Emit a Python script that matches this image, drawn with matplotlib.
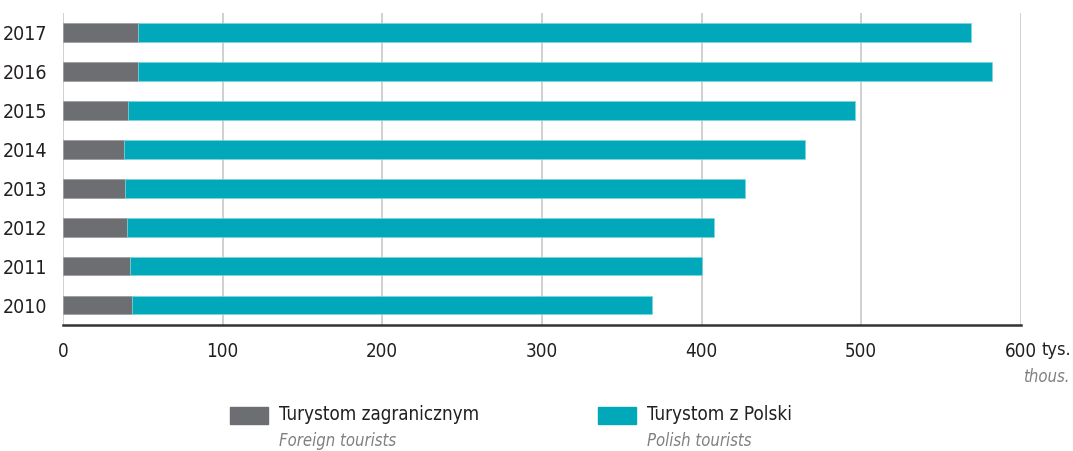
import matplotlib.pyplot as plt

plt.rcParams['font.family'] = ['DejaVu Sans']
plt.rcParams['font.stretch'] = 'condensed'

# dane (tys.)
years = ['2010', '2011', '2012', '2013', '2014', '2015', '2016', '2017']
foreign = [43, 42, 40, 39, 38, 41, 47, 47]
polish = [326, 358, 368, 388, 427, 455, 535, 522]

grey = '#6d6e71'
teal = '#00a8b9'

fig = plt.figure(figsize=(10.73, 4.51), dpi=100)
ax = fig.add_axes([0.0587, 0.279, 0.8928, 0.692])

y = range(len(years))
ax.barh(y, foreign, height=0.47, color=grey, edgecolor='#9a9a9c', linewidth=0.5, zorder=3)
ax.barh(y, polish, left=foreign, height=0.47, color=teal, edgecolor='#7fd3dc', linewidth=0.5, zorder=3)

ax.set_xlim(0, 600)
ax.set_ylim(-0.51, 7.5)
ax.set_yticks(list(y))
ax.set_yticklabels(years, fontsize=14, color='#231f20')
ax.set_xticks([0, 100, 200, 300, 400, 500, 600])
ax.set_xticklabels(['0', '100', '200', '300', '400', '500', '600'], fontsize=13.5, color='#231f20')
ax.tick_params(axis='y', length=0, pad=11)
ax.tick_params(axis='x', length=0, pad=12)

ax.grid(axis='x', color='#c8c8c8', linewidth=1.2, zorder=0)
for s in ['top', 'left', 'right']:
    ax.spines[s].set_visible(False)
ax.spines['bottom'].set_color('#333333')
ax.spines['bottom'].set_linewidth(1.8)
ax.spines['bottom'].set_zorder(4)

# jednostka
fig.text(1071 / 1073, 1 - 350 / 451, 'tys.', fontsize=13, color='#231f20', ha='right', va='center')
fig.text(1070 / 1073, 1 - 377 / 451, 'thous.', fontsize=12, color='#808080', style='italic',
         ha='right', va='center')

# legenda
fig.patches.append(plt.Rectangle((230 / 1073, 1 - 424 / 451), 38 / 1073, 17 / 451,
                                 transform=fig.transFigure, color=grey))
fig.patches.append(plt.Rectangle((598 / 1073, 1 - 424 / 451), 38 / 1073, 17 / 451,
                                 transform=fig.transFigure, color=teal))
fig.text(279 / 1073, 1 - 415 / 451, 'Turystom zagranicznym', fontsize=13.5, color='#231f20', va='center')
fig.text(279 / 1073, 1 - 441 / 451, 'Foreign tourists', fontsize=12, color='#808080',
         style='italic', va='center')
fig.text(647 / 1073, 1 - 415 / 451, 'Turystom z Polski', fontsize=13.5, color='#231f20', va='center')
fig.text(647 / 1073, 1 - 441 / 451, 'Polish tourists', fontsize=12, color='#808080',
         style='italic', va='center')

fig.savefig('out.png', dpi=100)
